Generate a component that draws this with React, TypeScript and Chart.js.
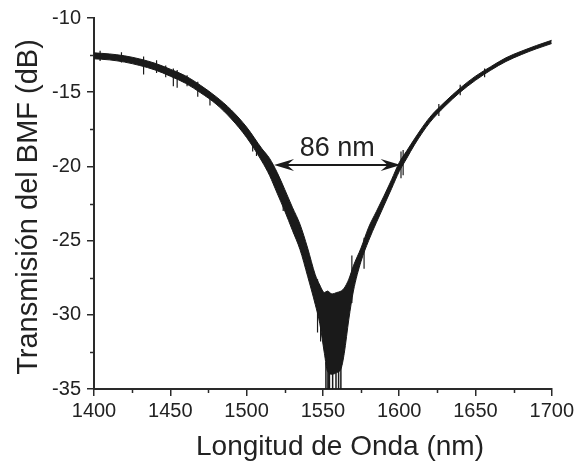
import React, { useEffect, useRef } from "react";
import { Chart, registerables } from "chart.js";

Chart.register(...registerables);

// ---- data ----
const wavelength = [
  1400, 1410, 1420, 1430, 1440, 1450, 1460, 1470, 1480, 1490, 1500, 1510,
  1515, 1520, 1525, 1530, 1535, 1540, 1545,
  1548, 1551, 1553, 1556, 1559, 1562, 1564, 1567,
  1570, 1575, 1580, 1585, 1590, 1595, 1600, 1605, 1610,
  1620, 1630, 1640, 1650, 1660, 1670, 1680, 1690, 1700,
];
const upperEnvelope = [
  -12.35, -12.42, -12.55, -12.76, -13.05, -13.45, -13.9, -14.55, -15.3, -16.2, -17.35, -18.8,
  -19.45, -20.4, -21.55, -22.75, -23.9, -25.5, -27.3,
  -28.0, -28.5, -28.4, -28.6, -28.5, -28.4, -28.2, -27.6,
  -26.7, -25.5, -24.1, -23.05, -22.0, -20.9, -19.75, -18.95, -18.15,
  -16.7, -15.65, -14.72, -13.92, -13.28, -12.68, -12.24, -11.85, -11.5,
];
const lowerEnvelope = [
  -12.75, -12.82, -12.97, -13.2, -13.5, -13.92, -14.4, -15.05, -15.8, -16.8, -18.05, -19.65,
  -20.6, -21.8, -23.0, -24.3, -25.6, -27.4, -29.3,
  -30.6, -32.6, -33.8, -34.0, -33.9, -33.6, -32.6, -30.3,
  -28.4, -26.4, -25.0, -23.8, -22.65, -21.5, -20.35, -19.45, -18.55,
  -17.05, -15.95, -15.0, -14.2, -13.52, -12.93, -12.47, -12.07, -11.72,
];
// visible noise spikes (vertical excursions)
const noiseWavelengths = [1404, 1418, 1432.5, 1441, 1447, 1452, 1454.5, 1461, 1468, 1476, 1504, 1506.5, 1524, 1531, 1546.5, 1548.5, 1569, 1577, 1601.2, 1602.6, 1626, 1640, 1656];
const noiseHigh = [-12.2, -12.3, -12.6, -12.85, -13.2, -13.4, -13.5, -13.85, -14.3, -15.0, -18.1, -18.4, -21.9, -23.3, -27.6, -28.2, -26.0, -24.8, -19.0, -18.9, -15.8, -14.5, -13.4];
const noiseLow = [-12.9, -13.0, -13.8, -13.7, -14.0, -14.6, -14.7, -14.6, -15.3, -15.9, -19.0, -19.3, -23.0, -24.5, -31.2, -31.8, -29.2, -26.9, -20.8, -20.6, -16.6, -15.2, -14.0];
const spikeWavelengths = [1552, 1553.3, 1554.3, 1556.4, 1558.6, 1560.3, 1561.8];
const spikeTops = [-33.2, -33.6, -33.8, -33.9, -33.9, -33.7, -33.4];
const spikeBottom = -35;

const xMin = 1400;
const xMax = 1700;
const xStep = 50;
const yMin = -35;
const yMax = -10;
const yStep = 5;

const xTitle = "Longitud de Onda (nm)";
const yTitle = "Transmisión del BMF (dB)";

const fwhmStart = 1518;
const fwhmEnd = 1601;
const fwhmLevel = -19.9;
const fwhmLabel = "86 nm";
const fwhmLabelX = 1559.4;
const fwhmLabelY = -19.33;

const INK = "#1a1a1a";
const AXIS = "#2a2a2a";
const FONT = "'Liberation Sans', Arial, sans-serif";

const decorPlugin = {
  id: "decor",
  afterDraw(chart: any) {
    const { ctx, scales, chartArea } = chart;
    const x = scales.x;
    const y = scales.y;
    ctx.save();
    // minor ticks
    ctx.strokeStyle = AXIS;
    ctx.lineWidth = 1.5;
    for (let v = xMin + xStep / 2; v < xMax; v += xStep) {
      const px = Math.round(x.getPixelForValue(v)) + 0.5;
      ctx.beginPath();
      ctx.moveTo(px, chartArea.bottom);
      ctx.lineTo(px, chartArea.bottom + 4);
      ctx.stroke();
    }
    for (let v = yMin + yStep / 2; v < yMax; v += yStep) {
      const py = Math.round(y.getPixelForValue(v)) + 0.5;
      ctx.beginPath();
      ctx.moveTo(chartArea.left, py);
      ctx.lineTo(chartArea.left - 4, py);
      ctx.stroke();
    }

    // FWHM arrow
    const x1 = x.getPixelForValue(fwhmStart);
    const x2 = x.getPixelForValue(fwhmEnd);
    const ay = y.getPixelForValue(fwhmLevel);
    ctx.strokeStyle = INK;
    ctx.fillStyle = INK;
    ctx.lineWidth = 2;
    ctx.beginPath();
    ctx.moveTo(x1 + 6, ay);
    ctx.lineTo(x2 - 6, ay);
    ctx.stroke();
    const head = (tx: number, dir: number) => {
      ctx.beginPath();
      ctx.moveTo(tx, ay);
      ctx.lineTo(tx + dir * 20, ay - 6);
      ctx.lineTo(tx + dir * 13, ay);
      ctx.lineTo(tx + dir * 20, ay + 6);
      ctx.closePath();
      ctx.fill();
    };
    head(x1, 1);
    head(x2, -1);

    // FWHM label
    ctx.font = `27px ${FONT}`;
    ctx.textAlign = "center";
    ctx.textBaseline = "alphabetic";
    ctx.fillStyle = "#222";
    ctx.fillText(fwhmLabel, x.getPixelForValue(fwhmLabelX), y.getPixelForValue(fwhmLabelY));

    // axis titles
    ctx.font = `28px ${FONT}`;
    ctx.fillText(xTitle, 340, 455);
    ctx.translate(37, 207);
    ctx.rotate(-Math.PI / 2);
    ctx.font = `29px ${FONT}`;
    ctx.fillText(yTitle, 0, 0);
    ctx.restore();
  },
};

export default function App() {
  const canvasRef = useRef<HTMLCanvasElement | null>(null);

  useEffect(() => {
    document.body.style.margin = "0";
    const canvas = canvasRef.current;
    if (!canvas) return;

    const upperData = wavelength.map((w, i) => ({ x: w, y: upperEnvelope[i] }));
    const lowerData = wavelength.map((w, i) => ({ x: w, y: lowerEnvelope[i] }));
    const spikeData: any[] = [];
    spikeWavelengths.forEach((w, i) => {
      spikeData.push({ x: w, y: spikeTops[i] });
      spikeData.push({ x: w, y: spikeBottom });
      spikeData.push({ x: w, y: null });
    });
    const noiseData: any[] = [];
    noiseWavelengths.forEach((w, i) => {
      noiseData.push({ x: w, y: noiseHigh[i] });
      noiseData.push({ x: w, y: noiseLow[i] });
      noiseData.push({ x: w, y: null });
    });

    const chart = new Chart(canvas, {
      type: "line",
      data: {
        datasets: [
          {
            data: upperData,
            borderColor: INK,
            borderWidth: 1,
            pointRadius: 0,
            cubicInterpolationMode: "monotone",
            fill: false,
          },
          {
            data: lowerData,
            borderColor: INK,
            borderWidth: 1,
            pointRadius: 0,
            cubicInterpolationMode: "monotone",
            backgroundColor: INK,
            fill: "-1",
          },
          {
            data: spikeData,
            borderColor: INK,
            borderWidth: 1.5,
            pointRadius: 0,
            spanGaps: false,
            fill: false,
          },
          {
            data: noiseData,
            borderColor: INK,
            borderWidth: 1.2,
            pointRadius: 0,
            spanGaps: false,
            fill: false,
          },
        ],
      },
      options: {
        animation: false,
        responsive: false,
        devicePixelRatio: 1,
        layout: { padding: { left: 0, right: 24, top: 15, bottom: 0 } },
        plugins: {
          legend: { display: false },
          tooltip: { enabled: false },
        },
        scales: {
          x: {
            type: "linear",
            min: xMin,
            max: xMax,
            afterFit: (s: any) => {
              s.height = 74;
            },
            ticks: {
              stepSize: xStep,
              color: "#222",
              font: { family: FONT, size: 20 },
              padding: 3,
              maxRotation: 0,
              callback: (v: any) => String(v),
            },
            grid: {
              drawOnChartArea: false,
              drawTicks: true,
              tickLength: 7,
              color: AXIS,
              lineWidth: 1.5,
            },
            border: { display: true, color: AXIS, width: 2 },
          },
          y: {
            type: "linear",
            min: yMin,
            max: yMax,
            afterFit: (s: any) => {
              s.width = 94;
            },
            ticks: {
              stepSize: yStep,
              color: "#222",
              font: { family: FONT, size: 20 },
              padding: 6,
              callback: (v: any) => String(v),
            },
            grid: {
              drawOnChartArea: false,
              drawTicks: true,
              tickLength: 7,
              color: AXIS,
              lineWidth: 1.5,
            },
            border: { display: true, color: AXIS, width: 2 },
          },
        },
      },
      plugins: [decorPlugin],
    });

    return () => chart.destroy();
  }, []);

  return (
    <div style={{ width: 577, height: 463, background: "#fff" }}>
      <canvas ref={canvasRef} width={577} height={463} />
    </div>
  );
}
